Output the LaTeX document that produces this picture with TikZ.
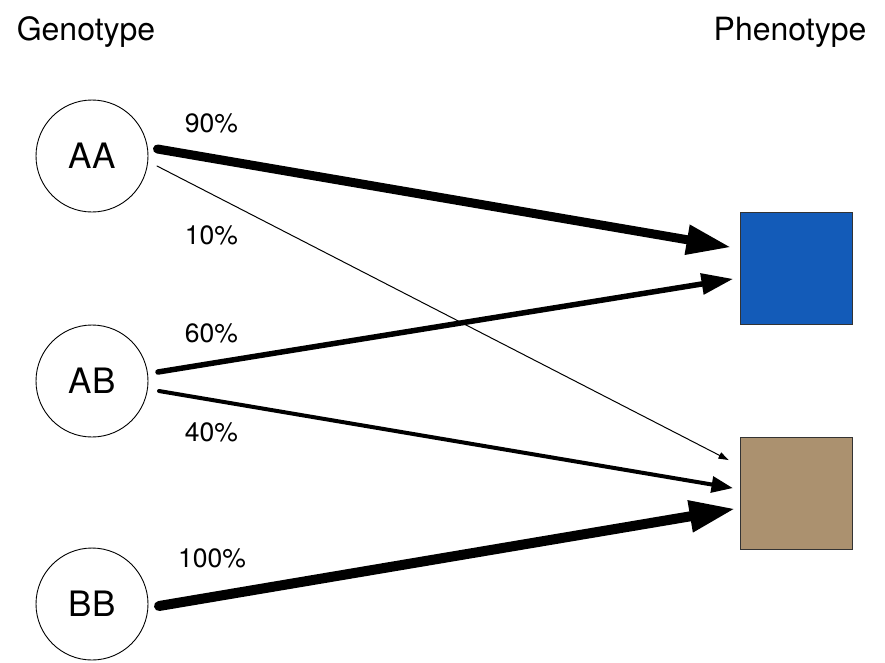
\documentclass[tikz,border=0pt]{standalone}
\usepackage{fontspec}
\setmainfont{TeX Gyre Heros}
\usetikzlibrary{arrows.meta,calc}
\definecolor{phblue}{HTML}{135BB8}
\definecolor{phbrown}{HTML}{AB916F}
\definecolor{edgegray}{HTML}{333333}
\tikzset{
  geno/.style={circle,draw=black,line width=0.9pt,minimum size=112pt,inner sep=0pt,
    font=\fontsize{35}{40}\selectfont},
  pheno/.style={rectangle,draw=edgegray,line width=1pt,minimum size=112pt,inner sep=0pt},
  title/.style={anchor=base,font=\fontsize{32}{38}\selectfont,inner sep=0pt},
  pct/.style={anchor=base,font=\fontsize{26.5}{30}\selectfont,inner sep=0pt},
  link/.style={line cap=round,draw=black}
}
\begin{document}
\begin{tikzpicture}[x=1pt,y=-1pt]
\useasboundingbox (0,0) rectangle (885,662);
% titles
\node[title] (gt) at (86,40) {Genotype};
\node[title] (pt) at (790,40) {Phenotype};
% genotypes
\node[geno] (AA) at (92,156) {AA};
\node[geno] (AB) at (92,381) {AB};
\node[geno] (BB) at (92,604) {BB};
% phenotypes
\node[pheno,fill=phblue] (blue) at (796,268.5) {};
\node[pheno,fill=phbrown] (brown) at (796,493) {};
% connector end points
\coordinate (s1) at ($(AA.center)+(65.5,-7)$);
\coordinate (s2) at ($(AA.center)+(65,10)$);
\coordinate (s3) at ($(AB.center)+(66,-9)$);
\coordinate (s4) at ($(AB.center)+(67,10)$);
\coordinate (s5) at ($(BB.center)+(67,2)$);
\coordinate (t1) at ($(blue.west)+(-10,-21.5)$);
\coordinate (t3) at ($(blue.west)+(-7,10.5)$);
\coordinate (t2) at ($(brown.west)+(-11,-33)$);
\coordinate (t4) at ($(brown.west)+(-7,-5)$);
\coordinate (t5) at ($(brown.west)+(-6,16)$);
% connectors
\draw[link,line width=9pt,-{Triangle[length=43pt,width=31pt,line width=0pt]}] (s1) -- (t1);
\draw[link,line width=1pt,-{Triangle[length=10pt,width=7pt,line width=0pt]}] (s2) -- (t2);
\draw[link,line width=5.5pt,-{Triangle[length=31pt,width=22pt,line width=0pt]}] (s3) -- (t3);
\draw[link,line width=4pt,-{Triangle[length=21pt,width=17pt,line width=0pt]}] (s4) -- (t4);
\draw[link,line width=10pt,-{Triangle[length=44pt,width=33pt,line width=0pt]}] (s5) -- (t5);
% labels
\node[pct] (p90) at (211.5,132) {90\%};
\node[pct] (p10) at (211.5,244) {10\%};
\node[pct] (p60) at (211.5,342) {60\%};
\node[pct] (p40) at (211.5,441) {40\%};
\node[pct] (p100) at (212,567) {100\%};
\end{tikzpicture}
\end{document}
